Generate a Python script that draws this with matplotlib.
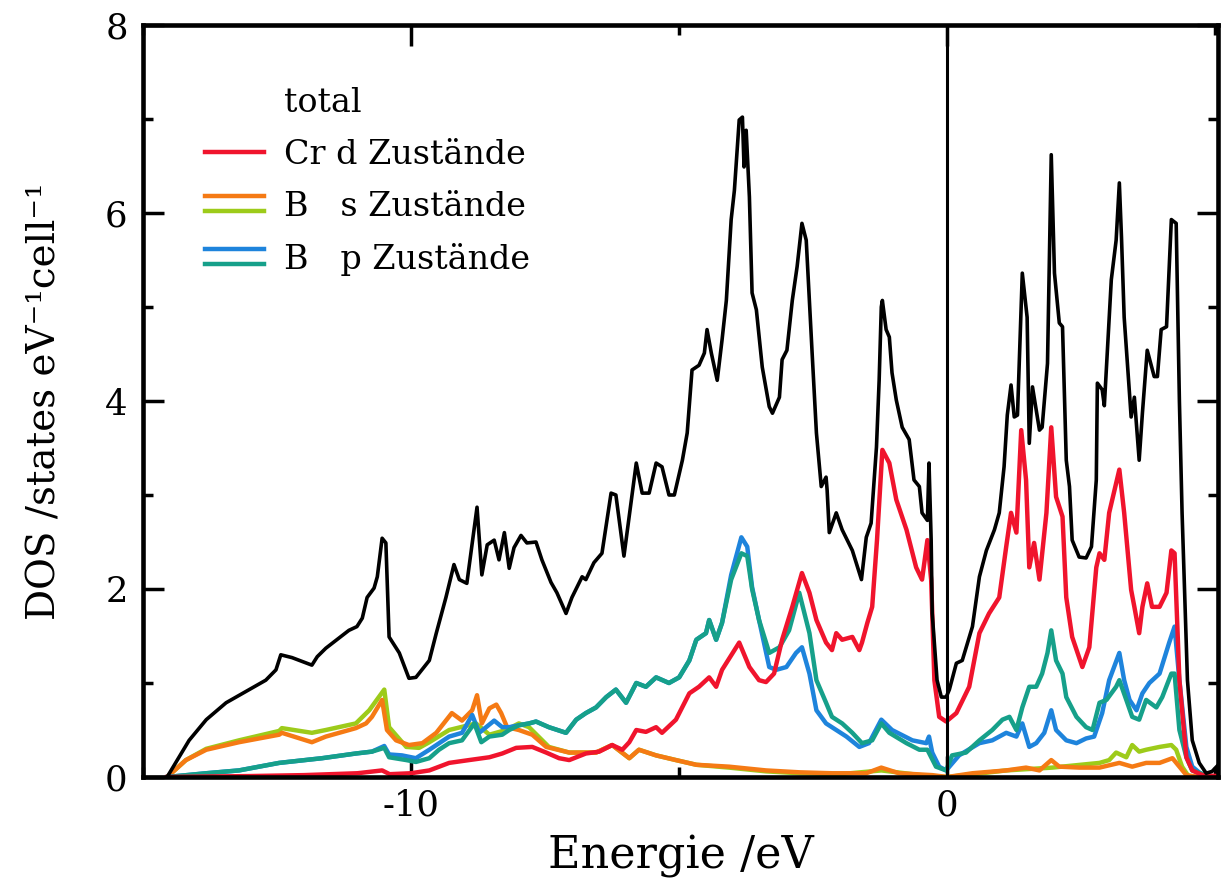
import numpy as np
import matplotlib
matplotlib.use("Agg")
import matplotlib.pyplot as plt
from matplotlib.lines import Line2D
from matplotlib.legend_handler import HandlerBase
from matplotlib.ticker import MultipleLocator

plt.rcParams['font.family'] = ['DejaVu Serif', 'DejaVu Sans']
plt.rcParams['axes.unicode_minus'] = False

# --- data (energy in eV, DOS in states/eV/cell) ---
total_e = [-14.55, -14.14, -13.82, -13.45, -13.02, -12.71, -12.52, -12.43, -12.22, -11.85,
           -11.75, -11.59, -11.34, -11.16, -11.01, -10.91, -10.82, -10.69, -10.63, -10.54,
           -10.47, -10.41, -10.22, -10.04, -9.91, -9.66, -9.53, -9.35, -9.20, -9.10,
           -8.96, -8.77, -8.68, -8.58, -8.45, -8.36, -8.26, -8.17, -8.08, -7.95,
           -7.84, -7.67, -7.56, -7.39, -7.28, -7.11, -7.00, -6.81, -6.74, -6.59,
           -6.44, -6.27, -6.18, -6.03, -5.80, -5.69, -5.56, -5.43, -5.32, -5.19,
           -5.09, -4.94, -4.85, -4.76, -4.63, -4.53, -4.48, -4.40, -4.29, -4.20,
           -4.12, -4.03, -3.97, -3.88, -3.82, -3.79, -3.75, -3.69, -3.64, -3.56,
           -3.45, -3.32, -3.26, -3.13, -3.08, -2.99, -2.89, -2.80, -2.71, -2.63,
           -2.52, -2.44, -2.35, -2.26, -2.24, -2.20, -2.07, -1.96, -1.77, -1.60,
           -1.51, -1.42, -1.32, -1.27, -1.23, -1.21, -1.14, -1.08, -1.03, -0.95,
           -0.84, -0.71, -0.62, -0.52, -0.47, -0.37, -0.34, -0.30, -0.28, -0.19,
           -0.11, -0.02, 0.04, 0.17, 0.28, 0.47, 0.60, 0.73, 0.88, 0.97,
           1.06, 1.12, 1.19, 1.25, 1.31, 1.40, 1.49, 1.53, 1.59, 1.72,
           1.77, 1.87, 1.94, 2.00, 2.09, 2.15, 2.22, 2.28, 2.33, 2.46,
           2.59, 2.69, 2.78, 2.80, 2.89, 2.93, 3.06, 3.15, 3.21, 3.25,
           3.30, 3.43, 3.49, 3.58, 3.64, 3.73, 3.86, 3.92, 3.99, 4.09,
           4.18, 4.27, 4.33, 4.38, 4.48, 4.57, 4.70, 4.83, 4.94, 5.04]
total_dos = [0.00, 0.39, 0.61, 0.79, 0.93, 1.03, 1.14, 1.30, 1.27, 1.19,
             1.28, 1.37, 1.48, 1.56, 1.60, 1.69, 1.91, 2.01, 2.13, 2.54,
             2.49, 1.49, 1.32, 1.05, 1.06, 1.24, 1.53, 1.91, 2.26, 2.10,
             2.06, 2.87, 2.15, 2.47, 2.52, 2.31, 2.60, 2.22, 2.44, 2.57,
             2.49, 2.50, 2.31, 2.07, 1.96, 1.74, 1.91, 2.13, 2.10, 2.28,
             2.38, 3.02, 3.00, 2.35, 3.34, 3.02, 3.02, 3.34, 3.30, 3.00,
             3.00, 3.37, 3.66, 4.33, 4.38, 4.51, 4.76, 4.51, 4.22, 4.65,
             5.07, 5.93, 6.24, 6.99, 7.02, 6.49, 6.88, 6.17, 5.15, 4.97,
             4.36, 3.94, 3.87, 4.04, 4.44, 4.54, 5.07, 5.43, 5.89, 5.71,
             4.51, 3.66, 3.09, 3.19, 3.05, 2.60, 2.81, 2.63, 2.41, 2.10,
             2.55, 2.70, 3.51, 4.22, 5.00, 5.07, 4.76, 4.68, 4.30, 4.01,
             3.72, 3.59, 3.16, 3.09, 2.81, 2.73, 3.34, 2.52, 1.74, 1.03,
             0.85, 0.85, 0.93, 1.21, 1.24, 1.60, 2.13, 2.41, 2.63, 2.81,
             3.30, 3.85, 4.17, 3.83, 3.85, 5.36, 4.89, 3.55, 4.15, 3.69,
             3.72, 4.40, 6.62, 5.36, 4.83, 4.79, 3.37, 3.09, 2.52, 2.34,
             2.33, 2.45, 3.16, 4.19, 4.12, 3.95, 5.29, 5.71, 6.32, 5.74,
             4.89, 3.83, 4.04, 3.37, 3.87, 4.54, 4.26, 4.26, 4.76, 4.79,
             5.93, 5.89, 4.00, 2.81, 1.03, 0.39, 0.15, 0.04, 0.06, 0.12]

cr_d_e = [-14.55, -13.0, -12.0, -11.0, -10.54, -10.40, -10.0, -9.66, -9.29, -8.92,
          -8.54, -8.30, -8.04, -7.74, -7.48, -7.24, -7.05, -6.74, -6.49, -6.25,
          -6.06, -5.93, -5.80, -5.62, -5.43, -5.32, -5.06, -4.81, -4.63, -4.44,
          -4.31, -4.20, -3.88, -3.69, -3.51, -3.38, -3.23, -3.08, -2.89, -2.71,
          -2.57, -2.44, -2.26, -2.15, -2.07, -1.96, -1.77, -1.64, -1.59, -1.49,
          -1.40, -1.31, -1.21, -1.08, -0.95, -0.76, -0.58, -0.47, -0.37, -0.30,
          -0.24, -0.15, -0.02, 0.17, 0.41, 0.60, 0.78, 0.97, 1.10, 1.19,
          1.29, 1.38, 1.47, 1.53, 1.62, 1.72, 1.85, 1.94, 2.03, 2.15,
          2.22, 2.33, 2.52, 2.65, 2.78, 2.84, 2.93, 3.02, 3.21, 3.30,
          3.43, 3.49, 3.58, 3.64, 3.73, 3.82, 3.96, 4.09, 4.18, 4.24,
          4.33, 4.46, 4.57, 4.76, 5.04]
cr_d_dos = [0.00, 0.01, 0.02, 0.04, 0.07, 0.03, 0.04, 0.07, 0.15, 0.18,
            0.21, 0.25, 0.31, 0.32, 0.26, 0.20, 0.18, 0.25, 0.27, 0.34,
            0.29, 0.37, 0.50, 0.48, 0.53, 0.47, 0.61, 0.89, 0.96, 1.06,
            0.96, 1.14, 1.43, 1.17, 1.03, 1.01, 1.10, 1.46, 1.81, 2.17,
            1.96, 1.67, 1.43, 1.35, 1.53, 1.46, 1.49, 1.35, 1.43, 1.64,
            1.81, 2.52, 3.48, 3.34, 2.95, 2.63, 2.23, 2.10, 2.52, 2.10,
            1.03, 0.64, 0.59, 0.68, 0.96, 1.53, 1.74, 1.91, 2.45, 2.81,
            2.60, 3.69, 3.16, 2.23, 2.49, 2.10, 2.81, 3.72, 2.98, 2.77,
            1.91, 1.49, 1.17, 1.38, 2.23, 2.38, 2.31, 2.81, 3.27, 2.81,
            1.99, 1.81, 1.53, 1.81, 2.06, 1.81, 1.81, 1.96, 2.41, 2.38,
            1.03, 0.21, 0.07, 0.02, 0.01]

b_s1_e = [-14.55, -14.20, -13.82, -13.21, -12.46, -12.41, -11.85, -11.59, -11.03, -10.84,
          -10.73, -10.54, -10.45, -10.28, -10.04, -9.79, -9.53, -9.24, -9.05, -8.86,
          -8.77, -8.68, -8.54, -8.41, -8.32, -8.21, -7.99, -7.74, -7.48, -7.05,
          -6.55, -6.25, -5.93, -5.75, -5.43, -5.06, -4.68, -4.07, -3.38, -2.76,
          -2.15, -1.51, -1.23, -0.90, -0.28, 0.0, 0.47, 1.10, 1.47, 1.72,
          1.94, 2.09, 2.46, 2.84, 3.21, 3.45, 3.71, 3.96, 4.20, 4.33,
          4.46, 4.70, 5.04]
b_s1_dos = [0.00, 0.18, 0.29, 0.37, 0.45, 0.47, 0.37, 0.43, 0.52, 0.57,
            0.64, 0.82, 0.50, 0.39, 0.34, 0.36, 0.47, 0.68, 0.60, 0.71,
            0.87, 0.57, 0.73, 0.77, 0.68, 0.53, 0.50, 0.45, 0.32, 0.26,
            0.26, 0.34, 0.20, 0.29, 0.23, 0.18, 0.13, 0.11, 0.07, 0.05,
            0.04, 0.04, 0.10, 0.04, 0.02, 0.00, 0.04, 0.07, 0.10, 0.07,
            0.18, 0.11, 0.10, 0.10, 0.15, 0.11, 0.15, 0.15, 0.20, 0.11,
            0.02, 0.00, 0.00]

b_s2_e = [-14.55, -14.20, -13.82, -13.21, -12.46, -12.41, -11.85, -11.59, -11.03, -10.78,
          -10.50, -10.41, -10.09, -9.85, -9.66, -9.29, -8.79, -8.54, -8.23, -7.99,
          -7.80, -7.43, -7.05, -6.55, -6.25, -5.93, -5.75, -5.43, -5.06, -4.68,
          -4.07, -3.38, -2.76, -2.00, -1.23, -0.50, 0.0, 0.50, 1.10, 1.96,
          2.84, 3.02, 3.15, 3.34, 3.45, 3.58, 3.71, 3.96, 4.18, 4.27,
          4.38, 4.51, 5.04]
b_s2_dos = [0.00, 0.18, 0.30, 0.39, 0.49, 0.52, 0.47, 0.50, 0.57, 0.71,
            0.93, 0.53, 0.32, 0.31, 0.37, 0.50, 0.57, 0.45, 0.50, 0.57,
            0.53, 0.32, 0.26, 0.26, 0.34, 0.20, 0.29, 0.23, 0.18, 0.13,
            0.10, 0.06, 0.04, 0.03, 0.07, 0.02, 0.00, 0.03, 0.07, 0.10,
            0.15, 0.18, 0.26, 0.21, 0.34, 0.27, 0.29, 0.32, 0.34, 0.29,
            0.11, 0.00, 0.00]

b_p1_e = [-14.55, -13.82, -13.21, -12.46, -11.66, -11.03, -10.73, -10.50, -10.41, -10.17,
          -9.91, -9.66, -9.29, -9.05, -8.86, -8.73, -8.60, -8.45, -8.30, -8.17,
          -7.99, -7.80, -7.67, -7.43, -7.11, -6.92, -6.74, -6.55, -6.36, -6.18,
          -5.99, -5.80, -5.62, -5.43, -5.19, -5.00, -4.81, -4.68, -4.50, -4.44,
          -4.31, -4.20, -4.03, -3.84, -3.73, -3.64, -3.51, -3.32, -3.19, -3.00,
          -2.82, -2.71, -2.57, -2.44, -2.26, -2.07, -1.88, -1.64, -1.46, -1.23,
          -1.03, -0.65, -0.39, -0.34, -0.28, -0.15, -0.02, 0.22, 0.60, 0.84,
          1.10, 1.29, 1.40, 1.53, 1.66, 1.81, 1.94, 2.03, 2.22, 2.41,
          2.59, 2.74, 2.89, 3.02, 3.21, 3.30, 3.40, 3.53, 3.64, 3.77,
          3.96, 4.14, 4.24, 4.33, 4.46, 4.57, 4.76, 5.04]
b_p1_dos = [0.00, 0.04, 0.07, 0.15, 0.20, 0.25, 0.27, 0.33, 0.24, 0.23,
            0.20, 0.29, 0.43, 0.47, 0.66, 0.47, 0.53, 0.60, 0.53, 0.53,
            0.55, 0.57, 0.59, 0.53, 0.47, 0.61, 0.68, 0.74, 0.85, 0.93,
            0.79, 1.00, 0.96, 1.06, 1.00, 1.06, 1.24, 1.46, 1.53, 1.67,
            1.46, 1.64, 2.15, 2.55, 2.45, 2.02, 1.67, 1.17, 1.14, 1.17,
            1.32, 1.38, 1.10, 0.71, 0.57, 0.50, 0.43, 0.32, 0.36, 0.61,
            0.50, 0.39, 0.36, 0.43, 0.26, 0.11, 0.07, 0.23, 0.36, 0.39,
            0.47, 0.43, 0.57, 0.32, 0.36, 0.47, 0.71, 0.50, 0.39, 0.36,
            0.41, 0.43, 0.68, 1.03, 1.32, 1.03, 0.82, 0.71, 0.89, 1.00,
            1.10, 1.43, 1.60, 1.03, 0.32, 0.11, 0.02, 0.00]

b_p2_e = [-14.55, -13.82, -13.21, -12.46, -11.66, -11.03, -10.73, -10.50, -10.41, -10.09,
          -9.91, -9.66, -9.48, -9.29, -9.05, -8.82, -8.69, -8.54, -8.30, -8.17,
          -7.99, -7.80, -7.67, -7.43, -7.11, -6.92, -6.74, -6.55, -6.36, -6.18,
          -5.99, -5.80, -5.62, -5.43, -5.19, -5.00, -4.81, -4.68, -4.50, -4.44,
          -4.31, -4.20, -4.03, -3.84, -3.73, -3.64, -3.51, -3.32, -3.13, -2.95,
          -2.76, -2.57, -2.44, -2.26, -2.15, -1.96, -1.77, -1.59, -1.40, -1.23,
          -1.08, -0.76, -0.52, -0.37, -0.21, -0.02, 0.09, 0.35, 0.60, 0.84,
          1.03, 1.16, 1.29, 1.40, 1.53, 1.66, 1.77, 1.87, 1.94, 2.03,
          2.15, 2.22, 2.41, 2.59, 2.71, 2.84, 2.97, 3.15, 3.21, 3.34,
          3.45, 3.58, 3.71, 3.90, 4.01, 4.18, 4.24, 4.33, 4.46, 4.57,
          4.83, 5.04]
b_p2_dos = [0.00, 0.04, 0.07, 0.15, 0.20, 0.25, 0.27, 0.31, 0.21, 0.18,
            0.16, 0.20, 0.29, 0.36, 0.39, 0.57, 0.37, 0.43, 0.45, 0.50,
            0.55, 0.57, 0.59, 0.53, 0.47, 0.61, 0.68, 0.74, 0.85, 0.93,
            0.79, 1.00, 0.96, 1.06, 1.00, 1.06, 1.24, 1.46, 1.53, 1.67,
            1.46, 1.64, 2.10, 2.38, 2.35, 2.00, 1.67, 1.32, 1.38, 1.56,
            1.96, 1.53, 1.03, 0.79, 0.64, 0.57, 0.47, 0.36, 0.39, 0.57,
            0.47, 0.36, 0.29, 0.29, 0.11, 0.07, 0.23, 0.26, 0.39, 0.50,
            0.61, 0.64, 0.50, 0.74, 0.96, 0.96, 1.10, 1.32, 1.56, 1.24,
            1.10, 0.85, 0.64, 0.53, 0.50, 0.79, 0.82, 0.96, 1.03, 0.82,
            0.64, 0.61, 0.82, 0.74, 0.85, 1.10, 1.10, 0.50, 0.21, 0.07,
            0.02, 0.00]

labels = ['total', 'Cr d Zustände', 'B   s Zustände', 'B   p Zustände']

c_red = '#f0142d'
c_orange = '#f57a14'
c_lime = '#9dcb1a'
c_blue = '#1e84dc'
c_teal = '#16a08a'

fig = plt.figure(figsize=(12.22, 8.88), dpi=100)
ax = fig.add_axes([143 / 1222, 111 / 888, 1075 / 1222, 752 / 888])

lw = 3.2
l_lime, = ax.plot(b_s2_e, b_s2_dos, color=c_lime, lw=lw)
l_orange, = ax.plot(b_s1_e, b_s1_dos, color=c_orange, lw=lw)
l_blue, = ax.plot(b_p1_e, b_p1_dos, color=c_blue, lw=lw)
l_teal, = ax.plot(b_p2_e, b_p2_dos, color=c_teal, lw=lw)
l_red, = ax.plot(cr_d_e, cr_d_dos, color=c_red, lw=lw)
l_tot, = ax.plot(total_e, total_dos, color='black', lw=2.6)
ax.axvline(0, color='black', lw=2.2)

ax.set_xlim(-15.0, 5.05)
ax.set_ylim(0, 8)
ax.xaxis.set_major_locator(MultipleLocator(10))
ax.xaxis.set_minor_locator(MultipleLocator(5))
ax.yaxis.set_major_locator(MultipleLocator(2))
ax.yaxis.set_minor_locator(MultipleLocator(1))
ax.tick_params(which='both', direction='in', top=True, right=True,
               width=2.5, labelsize=25.5)
ax.tick_params(which='major', length=15, pad=11)
ax.tick_params(axis='x', which='major', pad=8)
ax.tick_params(which='minor', length=7.5)
for s in ax.spines.values():
    s.set_linewidth(3.3)

ax.set_xlabel('Energie /eV', fontsize=32, labelpad=9)
ax.set_ylabel('DOS /states eV⁻¹cell⁻¹', fontsize=28, labelpad=30)


class StackedLines(HandlerBase):
    def create_artists(self, legend, orig_handle, xdescent, ydescent,
                       width, height, fontsize, trans):
        n = len(orig_handle)
        gap = 0.45 * fontsize
        arts = []
        for i, h in enumerate(orig_handle):
            y = -ydescent + height / 2 + ((n - 1) / 2 - i) * gap
            ln = Line2D([-xdescent, -xdescent + width], [y, y],
                        color=h.get_color(), lw=h.get_linewidth(),
                        transform=trans)
            arts.append(ln)
        return arts


blank = Line2D([], [], color='none')
handles = [(blank,), (l_red,), (l_orange, l_lime), (l_blue, l_teal)]
ax.legend(handles, labels, handler_map={tuple: StackedLines()},
          loc='upper left', bbox_to_anchor=(0.058, 0.918), frameon=False,
          fontsize=24, handlelength=1.75, handletextpad=0.62,
          labelspacing=0.6, borderpad=0, borderaxespad=0)

fig.savefig('out.png', dpi=100)
